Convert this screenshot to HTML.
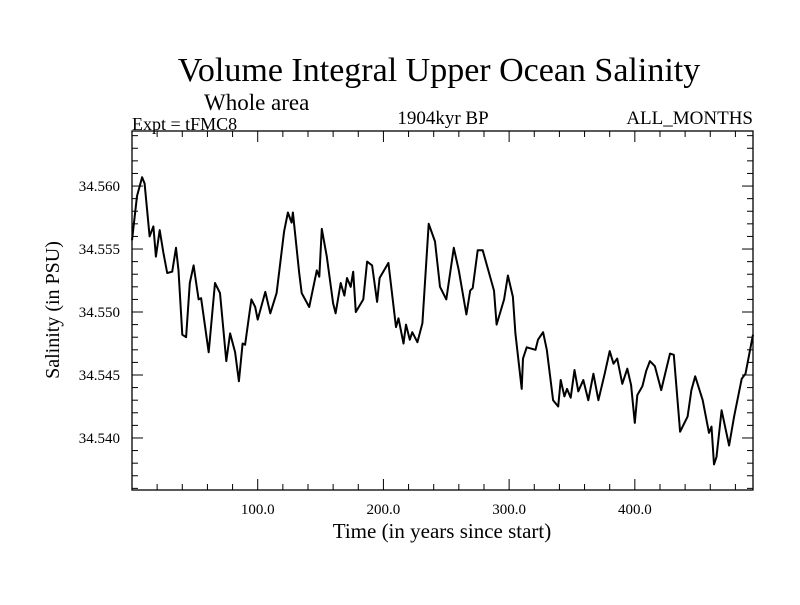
<!DOCTYPE html>
<html><head><meta charset="utf-8"><style>
body{margin:0;background:#fff;}
svg text{font-family:"Liberation Serif",serif;fill:#000;}
</style></head><body>
<svg id="chart" width="800" height="600">
<text x="439" y="81" font-size="34" text-anchor="middle">Volume Integral Upper Ocean Salinity</text>
<text x="204" y="110" font-size="23">Whole area</text>
<text x="132" y="130" font-size="18">Expt = tFMC8</text>
<text x="443" y="124" font-size="19" text-anchor="middle">1904kyr BP</text>
<text x="753" y="124" font-size="19" text-anchor="end">ALL_MONTHS</text>
<text x="442" y="538" font-size="21" text-anchor="middle">Time (in years since start)</text>
<text transform="translate(59,310) rotate(-90)" font-size="20" text-anchor="middle">Salinity (in PSU)</text>
<g id="ticks"></g>
<rect x="132" y="131" width="621" height="359" fill="none" stroke="#000" stroke-width="1.3"/>
<path id="line" fill="none" stroke="#000" stroke-width="2" stroke-linejoin="round"/>
</svg>
<script>
const years=[0,4,8,10,14,17,19,22,25,28,32,35,37,40,43,46,49,53,55,61,66,70,75,78,82,85,88,90,93,95,98,100,106,110,115,121,124,127,128,133,135,141,147,149,151,155,160,162,166,169,171,174,176,178,184,187,191,195,197,204,210,212,216,218,221,223,227,231,236,241,245,250,256,260,266,269,271,275,279,288,290,296,299,303,305,310,311,314,321,323,327,330,335,339,341,344,346,349,352,355,359,363,367,371,376,380,383,386,390,394,397,400,402,406,409,412,416,421,428,431,436,442,445,448,454,459,461,463,465,469,475,479,485,488,494];
const salinity=[34.5557,34.5592,34.5607,34.5602,34.5560,34.5568,34.5544,34.5565,34.5547,34.5531,34.5532,34.5551,34.5533,34.5482,34.5480,34.5523,34.5537,34.5510,34.5511,34.5468,34.5523,34.5515,34.5461,34.5483,34.5468,34.5445,34.5475,34.5474,34.5496,34.5510,34.5504,34.5494,34.5516,34.5499,34.5515,34.5564,34.5579,34.5571,34.5579,34.5531,34.5515,34.5504,34.5533,34.5528,34.5566,34.5544,34.5507,34.5499,34.5523,34.5513,34.5527,34.5520,34.5532,34.5500,34.5510,34.5540,34.5537,34.5508,34.5527,34.5539,34.5488,34.5495,34.5475,34.5490,34.5478,34.5484,34.5476,34.5491,34.5570,34.5556,34.5520,34.5510,34.5551,34.5533,34.5498,34.5517,34.5519,34.5549,34.5549,34.5517,34.5490,34.5510,34.5529,34.5512,34.5483,34.5439,34.5463,34.5472,34.5470,34.5478,34.5484,34.5470,34.5430,34.5425,34.5446,34.5433,34.5439,34.5432,34.5454,34.5437,34.5446,34.5430,34.5451,34.5430,34.5451,34.5469,34.5459,34.5463,34.5443,34.5455,34.5442,34.5412,34.5434,34.5441,34.5453,34.5461,34.5457,34.5438,34.5467,34.5466,34.5405,34.5417,34.5438,34.5449,34.5430,34.5404,34.5409,34.5379,34.5385,34.5422,34.5394,34.5417,34.5447,34.5451,34.5482];
const xTickLabels=["100.0","200.0","300.0","400.0"];
const xTickValues=[100,200,300,400];
const yTickLabels=["34.540","34.545","34.550","34.555","34.560"];
const yTickValues=[34.540,34.545,34.550,34.555,34.560];
const X0=132,X1=753,Y0=490,Y1=131,XMIN=0,XMAX=494,YMIN=34.53587,YMAX=34.56437;
function xs(v){return X0+(v-XMIN)/(XMAX-XMIN)*(X1-X0);}
function ys(v){return Y0-(v-YMIN)/(YMAX-YMIN)*(Y0-Y1);}
const NS="http://www.w3.org/2000/svg";
const g=document.getElementById('ticks');
function ln(x1,y1,x2,y2,name){const l=document.createElementNS(NS,'line');
l.setAttribute('x1',x1);l.setAttribute('y1',y1);l.setAttribute('x2',x2);l.setAttribute('y2',y2);
l.setAttribute('stroke','#000');l.setAttribute('stroke-width','1');


g.appendChild(l);}
function tx(x,y,s,anchor,name){const t=document.createElementNS(NS,'text');
t.setAttribute('x',x);t.setAttribute('y',y);t.setAttribute('font-size','15');t.setAttribute('text-anchor',anchor);t.textContent=s;


g.appendChild(t);}
for(let v=20;v<XMAX;v+=20){const x=xs(v);const L=(v%100===0)?11:6;
ln(x,Y0,x,Y0-L,'x-tick');ln(x,Y1,x,Y1+L,'x-tick-top');}
for(let k=0;k<=28;k++){const v=34.536+k*0.001;if(v>YMAX)break;const y=ys(v);const major=(k%5===4);const L=major?11:6;
ln(X0,y,X0+L,y,'y-tick');ln(X1,y,X1-L,y,'y-tick-right');}
xTickLabels.forEach((s,i)=>tx(xs(xTickValues[i]),514,s,'middle','x-tick-label'));
yTickLabels.forEach((s,i)=>tx(120,ys(yTickValues[i])+5,s,'end','y-tick-label'));
let d='';years.forEach((v,i)=>{d+=(i?'L':'M')+xs(v).toFixed(1)+','+ys(salinity[i]).toFixed(1);});
document.getElementById('line').setAttribute('d',d);
</script>
</body></html>
